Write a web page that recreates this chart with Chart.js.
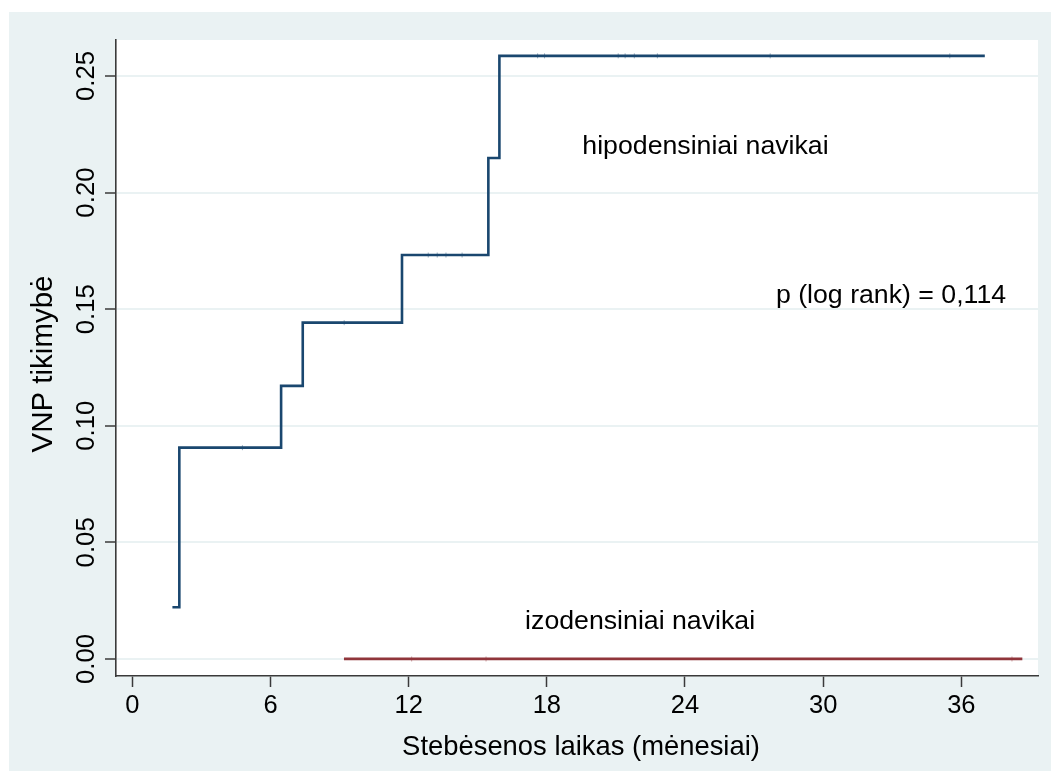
<!DOCTYPE html>
<html>
<head>
<meta charset="utf-8">
<script src="https://cdn.jsdelivr.net/npm/chart.js@4.4.1/dist/chart.umd.min.js"></script>
<style>
  html, body { margin: 0; padding: 0; background: #ffffff; }
  #wrap { width: 1051px; height: 771px; position: relative; }
</style>
</head>
<body>
<div id="wrap"><canvas id="c" width="1051" height="771"></canvas></div>
<script>
// Kaplan–Meier failure curves (VNP tikimybė) by tumour density group
const hipoTime  = [1.74, 2.04, 6.46, 7.40, 11.71, 15.46, 15.94, 37.02];
const hipoProb  = [0.0222, 0.0906, 0.1171, 0.1442, 0.1732, 0.2148, 0.2586, 0.2586];
const izoTime   = [9.19, 38.65];
const izoProb   = [0, 0];

// censored observations (small tick marks on the curves)
const hipoCensTime = [4.78, 9.20, 12.85, 13.24, 13.62, 14.32, 17.6, 17.9, 21.1, 21.4, 21.8, 22.8, 27.7, 35.5];
const hipoCensProb = [0.0906, 0.1442, 0.1732, 0.1732, 0.1732, 0.1732, 0.2586, 0.2586, 0.2586, 0.2586, 0.2586, 0.2586, 0.2586, 0.2586];
const izoCensTime  = [12.13, 15.36, 38.2];
const izoCensProb  = [0, 0, 0];

const xTicks = [0, 6, 12, 18, 24, 30, 36];
const yTicks = [0, 0.05, 0.10, 0.15, 0.20, 0.25];
const yTickLabels = ['0.00', '0.05', '0.10', '0.15', '0.20', '0.25'];

const xTitle = 'Stebėsenos laikas (mėnesiai)';
const yTitle = 'VNP tikimybė';
const hipoLabel = 'hipodensiniai navikai';
const izoLabel = 'izodensiniai navikai';
const pLabel = 'p (log rank) = 0,114';

const BLUE = '#1a476f';
const RED = '#90353b';
const BG = '#eaf2f3';
const AXIS = '#3a3a3a';
const FONT = '"Liberation Sans", Arial, Helvetica, sans-serif';

const toXY = (xs, ys) => xs.map((x, i) => ({ x: x, y: ys[i] }));

const backdrop = {
  id: 'backdrop',
  beforeDraw(chart) {
    const ctx = chart.ctx, a = chart.chartArea;
    ctx.save();
    ctx.fillStyle = BG;
    ctx.fillRect(9, 12, chart.width - 9, chart.height - 12);
    ctx.fillStyle = '#ffffff';
    ctx.fillRect(a.left, a.top, a.right - a.left, a.bottom - a.top);
    ctx.restore();
  }
};

const texts = {
  id: 'texts',
  afterDraw(chart) {
    const ctx = chart.ctx, ys = chart.scales.y, xs = chart.scales.x;
    ctx.save();
    ctx.fillStyle = '#000000';
    // y tick labels, rotated
    ctx.font = '25.8px ' + FONT;
    ctx.textAlign = 'center';
    ctx.textBaseline = 'alphabetic';
    yTicks.forEach((v, i) => {
      const py = ys.getPixelForValue(v);
      ctx.save();
      ctx.translate(93.5, py);
      ctx.rotate(-Math.PI / 2);
      ctx.fillText(yTickLabels[i], 0, 0);
      ctx.restore();
    });
    // axis titles
    ctx.font = '29.5px ' + FONT;
    ctx.save();
    ctx.translate(52, 364);
    ctx.rotate(-Math.PI / 2);
    ctx.fillText(yTitle, 0, 0);
    ctx.restore();
    ctx.font = '27.4px ' + FONT;
    ctx.fillText(xTitle, 581, 754.5);
    // group labels and test result
    ctx.font = '26.7px ' + FONT;
    ctx.fillText(hipoLabel, xs.getPixelForValue(24.89), 153.5);
    ctx.fillText(izoLabel, xs.getPixelForValue(22.05), 629);
    ctx.textAlign = 'left';
    ctx.fillText(pLabel, xs.getPixelForValue(27.95), 302.7);
    ctx.restore();
  }
};

new Chart(document.getElementById('c'), {
  type: 'line',
  data: {
    datasets: [
      {
        label: hipoLabel,
        data: toXY(hipoTime, hipoProb),
        borderColor: BLUE,
        borderWidth: 2.6,
        stepped: 'before',
        pointRadius: 0,
        fill: false
      },
      {
        label: izoLabel,
        data: toXY(izoTime, izoProb),
        borderColor: RED,
        borderWidth: 2.8,
        pointRadius: 0,
        fill: false
      },
      {
        type: 'scatter',
        data: toXY(hipoCensTime, hipoCensProb),
        pointStyle: 'line',
        rotation: 90,
        pointRadius: 2.5,
        borderColor: 'rgba(26,71,111,0.45)',
        borderWidth: 1
      },
      {
        type: 'scatter',
        data: toXY(izoCensTime, izoCensProb),
        pointStyle: 'line',
        rotation: 90,
        pointRadius: 2.5,
        borderColor: 'rgba(144,53,59,0.45)',
        borderWidth: 1
      }
    ]
  },
  options: {
    responsive: false,
    animation: false,
    devicePixelRatio: 1,
    layout: { padding: { top: 40, right: 13, left: 0, bottom: 0 } },
    plugins: { legend: { display: false }, tooltip: { enabled: false } },
    scales: {
      x: {
        type: 'linear',
        min: -0.71,
        max: 39.33,
        afterBuildTicks(s) { s.ticks = xTicks.map(v => ({ value: v })); },
        afterFit(s) { s.height = 95; },
        grid: {
          drawOnChartArea: false,
          drawTicks: true,
          tickLength: 11,
          tickColor: AXIS,
          tickWidth: 1.5
        },
        border: { display: true, color: AXIS, width: 1.6 },
        ticks: {
          color: '#000000',
          font: { family: FONT, size: 25.5 },
          padding: 4,
          maxRotation: 0,
          minRotation: 0,
          autoSkip: false
        }
      },
      y: {
        type: 'linear',
        min: -0.0073,
        max: 0.2654,
        afterBuildTicks(s) { s.ticks = yTicks.map(v => ({ value: v })); },
        afterFit(s) { s.width = 116; },
        grid: {
          color: BG,
          lineWidth: 2,
          drawTicks: true,
          tickLength: 11,
          tickColor: AXIS,
          tickWidth: 1.5
        },
        border: { display: true, color: AXIS, width: 1.6 },
        ticks: { display: false }
      }
    }
  },
  plugins: [backdrop, texts]
});
</script>
</body>
</html>
